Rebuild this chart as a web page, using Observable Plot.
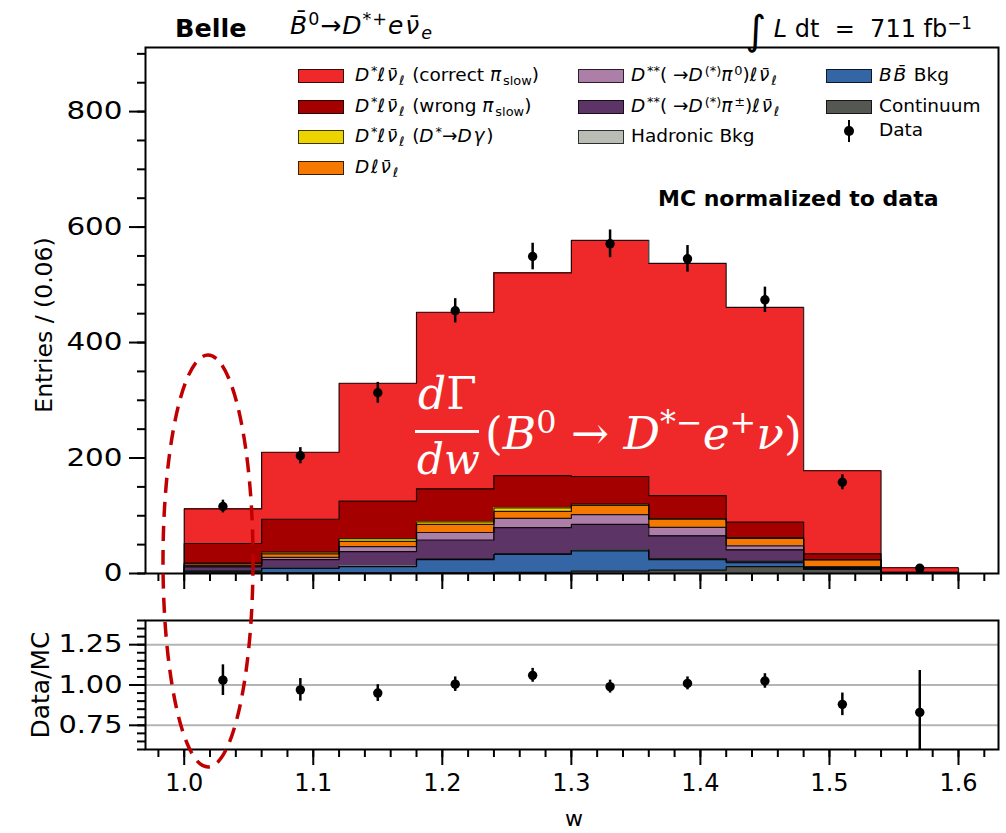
<!DOCTYPE html>
<html><head><meta charset="utf-8">
<script src="https://cdn.jsdelivr.net/npm/d3@7"></script>
<script src="https://cdn.jsdelivr.net/npm/@observablehq/plot@0.6"></script>
<style>
body{margin:0;background:#fff;}
#wrap{position:relative;width:1006px;height:833px;overflow:hidden;font-family:"DejaVu Sans",sans-serif;color:#000;background:#fff;}
#wrap svg{position:absolute;left:0;}
.abs{position:absolute;white-space:nowrap;line-height:1;}
sup{font-size:0.7em;vertical-align:0.5em;line-height:0;}
sub{font-size:0.7em;vertical-align:-0.3em;line-height:0;}
.leg{position:absolute;white-space:nowrap;font-size:18.5px;line-height:1;}
.leg i{letter-spacing:1.8px;}
.sw{position:absolute;width:46px;height:14px;box-sizing:border-box;border:1px solid rgba(0,0,0,0.75);}
.rot{position:absolute;white-space:nowrap;transform:translate(-50%,-50%) rotate(-90deg);line-height:1;}
.f{position:absolute;white-space:nowrap;color:#fff;font-family:"DejaVu Serif",serif;font-size:42px;line-height:1;}
</style></head><body><div id="wrap"></div>
<script>
// ---- data ----
const binEdges = [1.00, 1.06, 1.12, 1.18, 1.24, 1.30, 1.36, 1.42, 1.48, 1.54, 1.60];
const continuum  = [1, 1, 1, 1, 2, 4, 6, 12, 7, 1];
const bbBkg      = [3, 8, 11, 23, 31, 35, 18, 7, 1.5, 0];
const hadronic   = [0.5, 1, 1, 1, 1.5, 2, 2, 2, 1, 0];
const dssCharged = [7, 14, 25, 33, 45, 44, 39, 20, 1.5, 0];
const dssNeutral = [2, 4, 8.5, 13, 16, 17, 15, 7, 0.5, 0];
const dlnu       = [3, 6, 9, 14, 12, 16, 14, 13, 12, 0.5];
const dgamma     = [1.5, 3, 5, 4.5, 6, 2, 1, 1, 0.5, 0];
const wrongSlow  = [34, 57, 65, 57, 56, 48, 40, 27, 10, 1];
const correctSlow= [60, 116, 204, 306, 351, 409, 402, 372, 144, 7.5];
const dataValues = [116, 204, 313, 455, 549, 571, 545, 474, 158, 9];
const dataErrors = [11, 14, 18, 21, 23, 24, 23, 22, 13, 3];
const ratioValues = [1.03, 0.97, 0.95, 1.005, 1.06, 0.99, 1.01, 1.025, 0.88, 0.83];
const ratioErrors = [0.095, 0.07, 0.052, 0.045, 0.043, 0.04, 0.04, 0.045, 0.07, 0.26];

const seriesNames  = ["Continuum", "BB Bkg", "Hadronic Bkg", "D** pi+-", "D** pi0", "D l nu", "D* Dgamma", "wrong", "correct"];
const seriesColors = ["#555753", "#3465a4", "#babdb6", "#5c3566", "#ad7fa8", "#f57900", "#edd400", "#a40000", "#ef2929"];
const seriesValues = [continuum, bbBkg, hadronic, dssCharged, dssNeutral, dlnu, dgamma, wrongSlow, correctSlow];

const yMajorTicks = [0, 200, 400, 600, 800];
const yMinorTicks = d3.range(0, 901, 50);
const xMajorTicks = [1.0, 1.1, 1.2, 1.3, 1.4, 1.5, 1.6];
const xMinorTicks = d3.range(49, 82).map(k => +(k * 0.02).toFixed(2));
const rMajorTicks = [0.75, 1.00, 1.25];
const rMinorTicks = d3.range(12, 29).map(k => +(k * 0.05).toFixed(2));

const legendCols = [
  [["correct", "<i>D</i><sup>*</sup><i>ℓν̄</i><sub><i>ℓ</i></sub> (correct <i>π</i><sub>slow</sub>)"],
   ["wrong", "<i>D</i><sup>*</sup><i>ℓν̄</i><sub><i>ℓ</i></sub> (wrong <i>π</i><sub>slow</sub>)"],
   ["D* Dgamma", "<i>D</i><sup>*</sup><i>ℓν̄</i><sub><i>ℓ</i></sub> (<i>D</i><sup>*</sup>→<i>Dγ</i>)"],
   ["D l nu", "<i>Dℓν̄</i><sub><i>ℓ</i></sub>"]],
  [["D** pi0", "<i>D</i><sup>**</sup>( →<i>D</i><sup>(*)</sup><i>π</i><sup>0</sup>)<i>ℓν̄</i><sub><i>ℓ</i></sub>"],
   ["D** pi+-", "<i>D</i><sup>**</sup>( →<i>D</i><sup>(*)</sup><i>π</i><sup>±</sup>)<i>ℓν̄</i><sub><i>ℓ</i></sub>"],
   ["Hadronic Bkg", "Hadronic Bkg"]],
  [["BB Bkg", "<i>BB̄</i> Bkg"],
   ["Continuum", "Continuum"],
   ["Data", "Data"]]
];

// ---- derived tables ----
const nb = binEdges.length - 1;
const rects = [], outlines = [];
const cum = new Array(nb).fill(0);
seriesValues.forEach((vals, s) => {
  const name = seriesNames[s];
  outlines.push({series: name, x: binEdges[0], y: 0});
  vals.forEach((v, i) => {
    const y1 = cum[i], y2 = cum[i] + v;
    rects.push({series: name, x1: binEdges[i], x2: binEdges[i + 1], y1, y2});
    cum[i] = y2;
    outlines.push({series: name, x: binEdges[i], y: y2});
  });
  outlines.push({series: name, x: binEdges[nb], y: cum[nb - 1]});
  outlines.push({series: name, x: binEdges[nb], y: 0});
});
const centers = d3.range(nb).map(i => (binEdges[i] + binEdges[i + 1]) / 2);
const dataRows = dataValues.map((v, i) => ({w: centers[i], v, lo: v - dataErrors[i], hi: v + dataErrors[i]}));
const ratioRows = ratioValues.map((v, i) => ({w: centers[i], v, lo: v - ratioErrors[i], hi: v + ratioErrors[i]}));

const wrap = document.getElementById("wrap");
const empty = () => "";
const baseStyle = {fontFamily: "DejaVu Sans", background: "transparent", color: "black", overflow: "visible"};

const mainPlot = Plot.plot({
  width: 1006, height: 600,
  marginLeft: 145, marginRight: 8, marginTop: 47, marginBottom: 27,
  style: baseStyle,
  x: {domain: [0.97, 1.631]},
  y: {domain: [0, 911]},
  color: {domain: seriesNames, range: seriesColors},
  marks: [
    Plot.rect(rects, {x1: "x1", x2: "x2", y1: "y1", y2: "y2", fill: "series", inset: 0, shapeRendering: "crispEdges"}),
    Plot.line(outlines, {x: "x", y: "y", z: "series", curve: "step-after", stroke: "#000", strokeWidth: 1.2, strokeOpacity: 0.85}),
    Plot.ruleX(dataRows, {x: "w", y1: "lo", y2: "hi", stroke: "#000", strokeWidth: 2.5}),
    Plot.dot(dataRows, {x: "w", y: "v", r: 4.7, fill: "#000", stroke: null}),
    Plot.frame({stroke: "#000", strokeWidth: 2}),
    Plot.axisY({ticks: yMajorTicks, tickSize: 16, tickPadding: 7, fontSize: 24.5, strokeWidth: 2, label: null}),
    Plot.axisY({ticks: yMinorTicks, tickSize: 8, tickFormat: empty, strokeWidth: 2, label: null}),
    Plot.axisX({ticks: xMajorTicks, tickSize: 16, tickFormat: empty, strokeWidth: 2, label: null}),
    Plot.axisX({ticks: xMinorTicks, tickSize: 8, tickFormat: empty, strokeWidth: 2, label: null})
  ]
});
mainPlot.style.top = "0px";
wrap.appendChild(mainPlot);

const ratioPlot = Plot.plot({
  width: 1006, height: 233,
  marginLeft: 145, marginRight: 8, marginTop: 20, marginBottom: 84,
  style: baseStyle,
  x: {domain: [0.97, 1.631]},
  y: {domain: [0.6, 1.4]},
  marks: [
    Plot.ruleY(rMajorTicks, {stroke: "#b4b4b4", strokeWidth: 2}),
    Plot.ruleX(ratioRows, {x: "w", y1: "lo", y2: "hi", stroke: "#000", strokeWidth: 2.5, clip: true}),
    Plot.dot(ratioRows, {x: "w", y: "v", r: 4.7, fill: "#000", stroke: null}),
    Plot.frame({stroke: "#000", strokeWidth: 2}),
    Plot.axisY({ticks: rMajorTicks, tickSize: 16, tickPadding: 7, fontSize: 24, strokeWidth: 2, tickFormat: d3.format(".2f"), label: null}),
    Plot.axisY({ticks: rMinorTicks, tickSize: 8, tickFormat: empty, strokeWidth: 2, label: null}),
    Plot.axisX({ticks: xMajorTicks, tickSize: 16, tickPadding: 8, fontSize: 24, strokeWidth: 2, tickFormat: d3.format(".1f"), label: null}),
    Plot.axisX({ticks: xMinorTicks, tickSize: 8, tickFormat: empty, strokeWidth: 2, label: null})
  ]
});
ratioPlot.style.top = "600px";
wrap.appendChild(ratioPlot);

// widen y tick labels horizontally (the reference's are broader)
[mainPlot, ratioPlot].forEach(svg => {
  svg.querySelectorAll('g[aria-label="y-axis tick label"] text').forEach(t => {
    const tr = t.getAttribute("transform");
    if (tr) t.setAttribute("transform", tr + " scale(1.2,1)");
  });
});

// ---- texts ----
function addDiv(cls, html, css) {
  const d = document.createElement("div");
  d.className = cls; d.innerHTML = html;
  Object.assign(d.style, css);
  wrap.appendChild(d);
  return d;
}
addDiv("abs", "Belle", {left: "175px", top: "16px", fontSize: "25.5px", fontWeight: "bold"});
addDiv("abs", "<i>B̄</i><sup>0</sup>→<i>D</i><sup>*+</sup><i style='letter-spacing:2px'>eν̄</i><sub><i>e</i></sub>", {left: "290px", top: "13px", fontSize: "25px", letterSpacing: "1px"});
addDiv("abs", "<span style='font-size:40px;vertical-align:-7px'>∫</span> <i>L</i> dt&nbsp; = &nbsp;711 fb<sup>−1</sup>", {right: "34px", top: "10px", fontSize: "24px"});
addDiv("abs", "MC normalized to data", {left: "658px", top: "188px", fontSize: "22px", fontWeight: "bold"});
addDiv("rot", "Entries / (0.06)", {left: "45px", top: "325px", fontSize: "23.5px"});
addDiv("rot", "Data/MC", {left: "40px", top: "685px", fontSize: "25px"});
addDiv("abs", "w", {left: "565px", top: "808px", fontSize: "22px"});

// legend
const colX = [[298, 355], [578, 631], [826, 879]];
const rowY = [76, 106.5, 137, 167.5];
legendCols.forEach((col, c) => {
  col.forEach(([key, html], r) => {
    const cy = (key === "Data") ? 131 : rowY[r];
    if (key === "Data") {
      addDiv("abs", "", {left: (colX[c][0] + 21.5) + "px", top: (cy - 11) + "px", width: "2.5px", height: "22px", background: "#000"});
      addDiv("abs", "", {left: (colX[c][0] + 18) + "px", top: (cy - 5) + "px", width: "9.5px", height: "10px", borderRadius: "50%", background: "#000"});
    } else {
      const col = seriesColors[seriesNames.indexOf(key)];
      addDiv("sw", "", {left: colX[c][0] + "px", top: (cy - 7) + "px", background: col});
    }
    addDiv("leg", html, {left: colX[c][1] + "px", top: (cy - 10) + "px"});
  });
});

// annotation formula
addDiv("f", "<i>d</i>Γ", {left: "418px", top: "372px", fontSize: "44px"});
addDiv("abs", "", {left: "415px", top: "430px", width: "64px", height: "3px", background: "#fff"});
addDiv("f", "<i>dw</i>", {left: "417px", top: "439px"});
addDiv("f", "(<i>B</i><sup>0</sup> → <i>D</i><sup>*−</sup><i>e</i><sup>+</sup><i>ν</i>)", {left: "485px", top: "411px", fontSize: "45.5px"});

// dashed ellipse annotation
const ns = "http://www.w3.org/2000/svg";
const ov = document.createElementNS(ns, "svg");
ov.setAttribute("width", 1006); ov.setAttribute("height", 833);
ov.style.position = "absolute"; ov.style.left = "0"; ov.style.top = "0"; ov.style.pointerEvents = "none";
const el = document.createElementNS(ns, "ellipse");
el.setAttribute("cx", 208); el.setAttribute("cy", 561); el.setAttribute("rx", 45); el.setAttribute("ry", 206);
el.setAttribute("fill", "none"); el.setAttribute("stroke", "#c00000"); el.setAttribute("stroke-width", 3.5);
el.setAttribute("stroke-dasharray", "15 9");
ov.appendChild(el);
wrap.appendChild(ov);
</script></body></html>
